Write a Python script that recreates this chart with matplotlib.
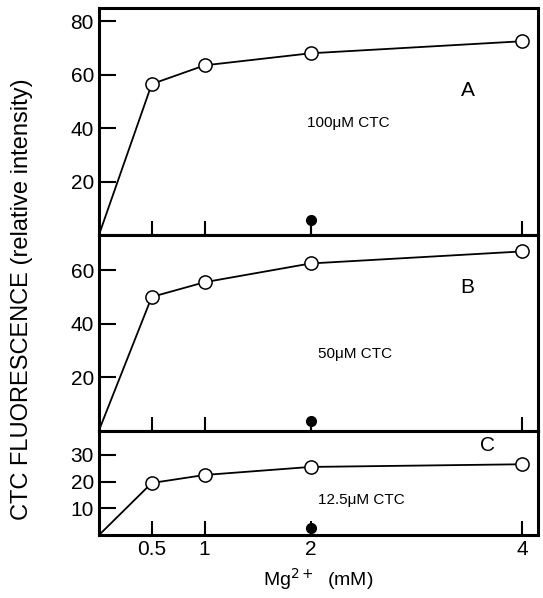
import matplotlib
matplotlib.use("Agg")
import matplotlib.pyplot as plt

plt.rcParams['font.family'] = ['Liberation Sans', 'DejaVu Sans']

# Mg2+ concentration (mM)
mg = [0, 0.5, 1, 2, 4]
# CTC fluorescence for the three CTC concentrations
fluo_a = [0, 56.5, 63.5, 68, 72.5]
fluo_b = [0, 50, 55.5, 62.5, 67]
fluo_c = [0, 19.5, 22.5, 25.5, 26.5]
# filled control point at 2 mM
ctrl_x = 2
ctrl_a = 5.8
ctrl_b = 3.6
ctrl_c = 2.6

panels = [
    (fluo_a, ctrl_a, 85, [20, 40, 60, 80], 'A', '100\u03bcM CTC', (3.49, 54), (1.97, 42)),
    (fluo_b, ctrl_b, 73, [20, 40, 60], 'B', '50\u03bcM CTC', (3.48, 53.6), (2.07, 28.8)),
    (fluo_c, ctrl_c, 39, [10, 20, 30], 'C', '12.5\u03bcM CTC', (3.67, 33.4), (2.07, 13)),
]

fig = plt.figure(figsize=(5.43, 5.98), dpi=100)
gs = fig.add_gridspec(3, 1, height_ratios=[85, 73, 39], hspace=0,
                      left=0.182, right=0.991, top=0.987, bottom=0.105)

axes = []
for i, (ys, cy, ymax, yt, letter, label, lpos, tpos) in enumerate(panels):
    ax = fig.add_subplot(gs[i])
    axes.append(ax)
    ax.plot(mg, ys, color='black', lw=1.3, zorder=2)
    ax.plot(mg[1:], ys[1:], 'o', ms=9.5, mfc='white', mec='black', mew=1.1, zorder=3)
    ax.vlines(ctrl_x, 0, cy, color='black', lw=1.5)
    ax.plot([ctrl_x], [cy], 'o', ms=7, color='black', zorder=3)
    ax.set_xlim(0, 4.15)
    ax.set_ylim(0, ymax)
    ax.set_yticks(yt)
    ax.set_xticks([0.5, 1, 2, 4])
    ax.tick_params(direction='in', length=10, width=1.5, labelsize=15)
    ax.tick_params(axis='y', length=12)
    for s in ax.spines.values():
        s.set_linewidth(2.2)
    if i < 2:
        ax.tick_params(labelbottom=False)
    else:
        ax.set_xticklabels(['0.5', '1', '2', '4'])
    ax.text(lpos[0], lpos[1], letter, fontsize=15, ha='center', va='center')
    ax.text(tpos[0], tpos[1], label, fontsize=11, va='center')

axes[2].set_xlabel('Mg$^{2+}$  (mM)', fontsize=14, labelpad=5)
fig.text(0.04, 0.5, 'CTC FLUORESCENCE (relative intensity)', rotation=90,
         fontsize=17, ha='center', va='center')

fig.savefig('out.png', dpi=100)
